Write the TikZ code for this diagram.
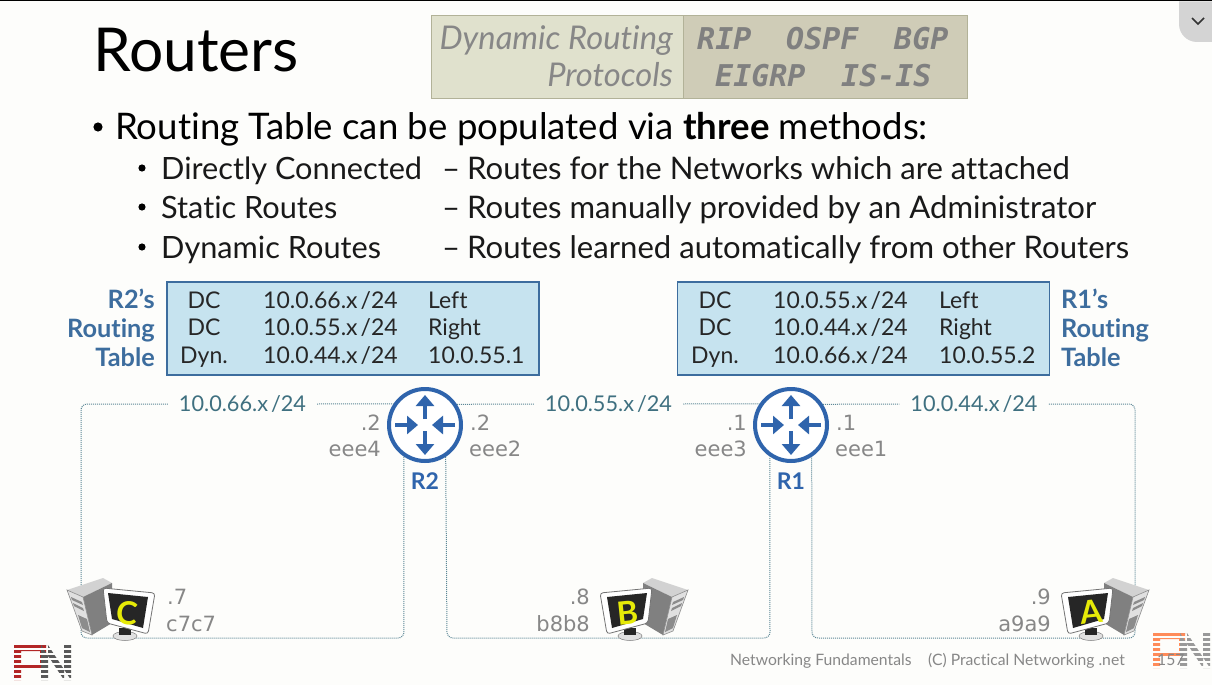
\documentclass[tikz,border=0pt]{standalone}
\usepackage{fontspec}
\setmainfont{Lato}[Ligatures=NoCommon]
\newfontfamily\addrfont{DejaVu Sans}
\newfontfamily\protofont{DejaVu Sans Mono}
\usepackage{xcolor}
\usetikzlibrary{positioning,arrows.meta,shapes.geometric}

\definecolor{pagebg}{HTML}{FDFDFB}
\definecolor{routerblue}{HTML}{2F64AC}
\definecolor{tblfill}{HTML}{C6E3EF}
\definecolor{tblline}{HTML}{3D6D9E}
\definecolor{lanteal}{HTML}{3F7080}
\definecolor{linkdot}{HTML}{5C8796}
\definecolor{softgray}{HTML}{878787}
\definecolor{bannerL}{HTML}{E0E1CD}
\definecolor{bannerR}{HTML}{CFCCB7}
\definecolor{bannerline}{HTML}{B2B298}

% desktop icon, drawn facing right (#3=1) or left (#3=-1)
\newcommand{\pcicon}[3]{
	\begin{scope}[shift={(#1,#2)}, xscale=#3]
		\fill[gray!35] (0,12) -- (36,0) -- (45,5) -- (16,19) -- cycle;
		\fill[black!50] (16,19) -- (45,5) -- (45,45) -- (25,57) -- cycle;
		\fill[black!12, draw=black!45, line width=0.6pt] (0,12) -- (16,19) -- (25,57) -- (15,53) -- cycle;
		\fill[black!45] (4,19) -- (15,24) -- (16,27) -- (5,22) -- cycle;
		\fill[black!45] (6,25) -- (16,30) -- (17,33) -- (7,28) -- cycle;
		\fill[black!45] (11,37) -- (20,41) -- (23,54) -- (15,50) -- cycle;
		\fill[black!12, draw=black!50, line width=0.5pt] (58,58) ellipse[x radius=12pt, y radius=4.5pt];
		\fill[black!85] (52,50) rectangle (64,57);
		\fill[white, draw=black!55, line width=0.8pt, rounded corners=3pt] (36,10) -- (88,15) -- (81,56) -- (40,45) -- cycle;
		\fill[black!85] (41,15) -- (81,19) -- (76,50) -- (45,41) -- cycle;
	\end{scope}
}

% striped PN mark
\newcommand{\pnlogo}[4]{
	\begin{scope}[shift={(#1,#2)}]
		\fill[#3] (0,0) rectangle (7,35) (0,0) rectangle (32,6) (26,0) rectangle (32,24) (0,19) rectangle (32,24);
		\fill[#4] (27,0) rectangle (34,35) (50,0) rectangle (57,35) (27,0) -- (34,0) -- (57,35) -- (50,35) -- cycle;
		\foreach \yy in {3,8,13,18,23,28,33}
			\fill[pagebg] (-1,\yy) rectangle (58,\yy+1.5);
	\end{scope}
}

\begin{document}
\begin{tikzpicture}[
	x=1pt, y=-1pt,
	every node/.style={inner sep=0pt},
	% --- text ---
	slide_title/.style={anchor=base west, font=\fontsize{60.5}{60}\selectfont, text=black},
	main_item/.style={anchor=base west, font=\fontsize{36.6}{36}\selectfont, text=black},
	sub_item/.style={anchor=base west, font=\fontsize{30.7}{31}\selectfont, text=black!90},
	what_item/.style={anchor=base west, font=\fontsize{31.1}{31}\selectfont, text=black!90},
	foot_text/.style={anchor=base west, font=\fontsize{15.7}{15}\selectfont, text=softgray},
	% --- banner ---
	proto_left/.style={fill=bannerL, draw=bannerline, line width=1pt},
	proto_right/.style={fill=bannerR, draw=bannerline, line width=1pt},
	proto_head/.style={anchor=base east, font=\fontsize{32.7}{32}\selectfont\itshape, text=softgray},
	proto_name/.style={anchor=base west, font=\protofont\bfseries\itshape\fontsize{30}{30}\selectfont, text=black!50},
	% --- tables ---
	tbl_box/.style={fill=tblfill, draw=tblline, line width=1.4pt, minimum width=372pt, minimum height=93pt},
	tbl_cell/.style={anchor=base west, font=\fontsize{23}{23}\selectfont, text=black!85},
	tbl_kind/.style={tbl_cell, anchor=base},
	tbl_title/.style={font=\bfseries\fontsize{25.3}{25}\selectfont, text=tblline},
	% --- network ---
	router/.style={circle, draw=routerblue, line width=4pt, minimum size=72pt, fill=white},
	router_arrow/.style={draw=routerblue, line width=4.5pt, -{Triangle[length=11pt,width=18pt]}},
	router_name/.style={anchor=base, font=\bfseries\fontsize{23}{23}\selectfont, text=routerblue},
	lan_label/.style={inner xsep=11pt, text height=15pt, text depth=0pt, font=\fontsize{21.7}{21}\selectfont, text=lanteal},
	link/.style={draw=linkdot, line width=1pt, dash pattern=on 1pt off 1pt, rounded corners=6pt},
	port_l/.style={anchor=base east, font=\addrfont\fontsize{21}{21}\selectfont, text=softgray},
	port_r/.style={anchor=base west, font=\addrfont\fontsize{21}{21}\selectfont, text=softgray},
	pc_letter/.style={font=\bfseries\fontsize{32}{32}\selectfont, text=yellow!90!green}
	]
	\useasboundingbox (0,0) rectangle (1212,685);
	\fill[pagebg] (0,0) rectangle (1212,685);
	\fill[black] (0,0) rectangle (1212,1.5);

	% Scroll tab
	\fill[black!17] (1179,1.5) -- (1179,24) arc[start angle=180, end angle=270, radius=18pt] -- (1212,42) -- (1212,1.5) -- cycle;
	\draw[black!80, line width=1.5pt] (1192,18) -- (1198,24) -- (1204,18);

	% Title and banner
	\node[slide_title] (title) at (93,71) {Routers};
	\node[proto_left, minimum width=252pt, minimum height=83pt] (protoL) at (557,57) {};
	\node[proto_right, minimum width=284pt, minimum height=83pt] (protoR) at (825,57) {};
	\node[proto_head] (headA) at (673,49) {Dynamic Routing};
	\node[proto_head] (headB) at (673,86) {Protocols};
	\node[proto_name] (rip) at (697,49) {RIP};
	\node[proto_name] (ospf) at (786,49) {OSPF};
	\node[proto_name] (bgp) at (894,49) {BGP};
	\node[proto_name] (eigrp) at (715,86) {EIGRP};
	\node[proto_name] (isis) at (841,86) {IS-IS};

	% Bullets
	\fill[black] (98,127) circle[radius=4.6pt];
	\node[main_item] (intro) at (115,139) {Routing Table can be populated via \textbf{three} methods:};
	\foreach \yy/\how/\what in {
		168/Directly Connected/Routes for the Networks which are attached,
		207/Static Routes/Routes manually provided by an Administrator,
		247/Dynamic Routes/Routes learned automatically from other Routers}{
		\fill[black] (142,\yy) circle[radius=3.6pt];
		\node[sub_item] (how\yy) at (161,\yy+11) {\how};
		\node[what_item] (dash\yy) at (442,\yy+11) {–};
		\node[what_item] (what\yy) at (467,\yy+11) {\what};
	}

	% Routing tables
	\node[tbl_box] (r2tbl) at (353,328.5) {};
	\node[tbl_box] (r1tbl) at (863.5,328.5) {};
	\foreach \yy/\kind/\net/\via in {308/DC/10.0.66.x/Left, 335/DC/10.0.55.x/Right, 363/Dyn./10.0.44.x/10.0.55.1}{
		\node[tbl_kind] (r2kind\yy) at (204,\yy) {\kind};
		\node[tbl_cell] (r2net\yy) at (263,\yy) {\net\hspace{3pt}/24};
		\node[tbl_cell] (r2via\yy) at (428,\yy) {\via};
	}
	\foreach \yy/\kind/\net/\via in {308/DC/10.0.55.x/Left, 335/DC/10.0.44.x/Right, 363/Dyn./10.0.66.x/10.0.55.2}{
		\node[tbl_kind] (r1kind\yy) at (715,\yy) {\kind};
		\node[tbl_cell] (r1net\yy) at (773,\yy) {\net\hspace{3pt}/24};
		\node[tbl_cell] (r1via\yy) at (939,\yy) {\via};
	}
	\node[tbl_title, anchor=base east] (r2capA) at (155,308) {R2’s};
	\node[tbl_title, anchor=base east] (r2capB) at (155,337) {Routing};
	\node[tbl_title, anchor=base east] (r2capC) at (155,366) {Table};
	\node[tbl_title, anchor=base west] (r1capA) at (1061,308) {R1’s};
	\node[tbl_title, anchor=base west] (r1capB) at (1061,337) {Routing};
	\node[tbl_title, anchor=base west] (r1capC) at (1061,366) {Table};

	% Routers
	\node[router] (R2) at (425,425) {};
	\node[router] (R1) at (791,425) {};
	\foreach \rr in {R2,R1}{
		\draw[router_arrow] ([yshift=6pt]\rr.center) -- ([yshift=30pt]\rr.center);
		\draw[router_arrow] ([yshift=-6pt]\rr.center) -- ([yshift=-30pt]\rr.center);
		\draw[router_arrow] ([xshift=-30pt]\rr.center) -- ([xshift=-7pt]\rr.center);
		\draw[router_arrow] ([xshift=30pt]\rr.center) -- ([xshift=7pt]\rr.center);
	}
	\node[router_name] (R2name) at (425,489) {R2};
	\node[router_name] (R1name) at (791,489) {R1};

	% Network labels
	\node[lan_label] (lan66) at (242.5,404) {10.0.66.x\hspace{3pt}/24};
	\node[lan_label] (lan55) at (608.5,404) {10.0.55.x\hspace{3pt}/24};
	\node[lan_label] (lan44) at (974,404) {10.0.44.x\hspace{3pt}/24};

	% Corners of the links
	\coordinate (c66a) at (81,404);
	\coordinate (c66b) at (81,638);
	\coordinate (c66c) at (404,638);
	\coordinate (c55a) at (447,638);
	\coordinate (c55b) at (770,638);
	\coordinate (c44a) at (1135,404);
	\coordinate (c44b) at (1135,638);
	\coordinate (c44c) at (812,638);

	\draw[link] (lan66.east) -- (R2.146.5);
	\draw[link] (lan66.west) -- (c66a) -- (c66b) -- (c66c) -- (R2.236.5);
	\draw[link] (R2.33.5) -- (lan55.west);
	\draw[link] (lan55.east) -- (R1.146.5);
	\draw[link] (R2.303.5) -- (c55a) -- (c55b) -- (R1.236.5);
	\draw[link] (R1.33.5) -- (lan44.west);
	\draw[link] (lan44.east) -- (c44a) -- (c44b) -- (c44c) -- (R1.303.5);

	% Port labels
	\node[port_l] (p2a) at (381,430) {.2};
	\node[port_l] (p2b) at (381,456) {eee4};
	\node[port_r] (p2c) at (470,430) {.2};
	\node[port_r] (p2d) at (469,456) {eee2};
	\node[port_l] (p1a) at (747,430) {.1};
	\node[port_l] (p1b) at (747,456) {eee3};
	\node[port_r] (p1c) at (836,430) {.1};
	\node[port_r] (p1d) at (835,456) {eee1};

	% Hosts
	\pcicon{67}{578}{1}
	\pcicon{688}{578}{-1}
	\pcicon{1149}{578}{-1}
	\node[pc_letter, rotate=-6] (pcC) at (127,613) {C};
	\node[pc_letter, rotate=6] (pcB) at (628,613) {B};
	\node[pc_letter, rotate=6] (pcA) at (1091,612) {A};
	\node[port_r] (hCa) at (167,604) {.7};
	\node[port_r] (hCb) at (166,631) {c7c7};
	\node[port_l] (hBa) at (590,604) {.8};
	\node[port_l] (hBb) at (590,631) {b8b8};
	\node[port_l] (hAa) at (1051,604) {.9};
	\node[port_l] (hAb) at (1051,631) {a9a9};

	% Footer
	\pnlogo{14}{645}{red!65!black!85}{black!65}
	\pnlogo{1153}{633}{orange!60!red!65}{black!40}
	\node[foot_text] (footA) at (730,665) {Networking Fundamentals};
	\node[foot_text] (footB) at (928,665) {(C) Practical Networking .net};
	\node[foot_text] (page) at (1157,665) {157};
\end{tikzpicture}
\end{document}
